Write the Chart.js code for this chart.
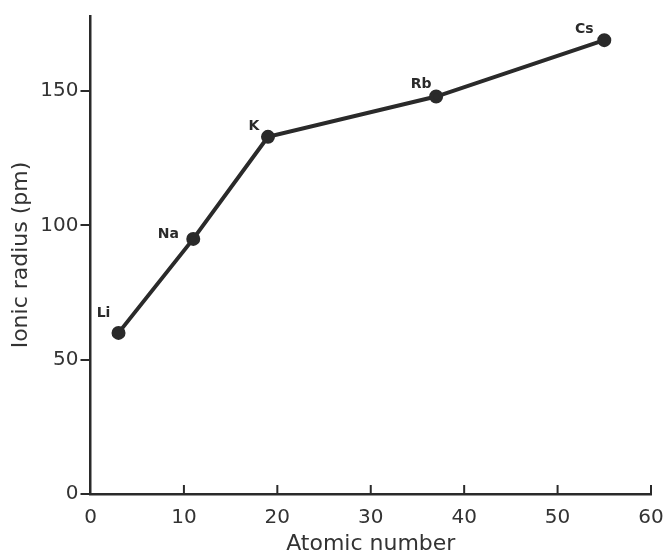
<!DOCTYPE html>
<html>
<head>
<meta charset="utf-8">
<script src="https://cdn.jsdelivr.net/npm/chart.js@4"></script>
<style>
  html, body { margin: 0; padding: 0; background: #fff; }
  .chartBox { width: 669px; height: 559px; position: relative; }
</style>
</head>
<body>
<div class="chartBox">
  <canvas id="chart"></canvas>
</div>
<script>
// alkali metal ions
const elements = ['Li', 'Na', 'K', 'Rb', 'Cs'];
const atomicNumbers = [3, 11, 19, 37, 55];
const ionicRadii = [60, 95, 133, 148, 169];
const xTicks = [0, 10, 20, 30, 40, 50, 60];
const yTicks = [0, 50, 100, 150];

const ink = '#2a2a2a';
const font = 'DejaVu Sans';

// where each element name sits relative to its point
const labelOffsets = [[-15, -20], [-25, -5], [-14, -10], [-15, -12], [-20, -11]];

const pointLabels = {
    id: 'pointLabels',
    afterDatasetsDraw(chart) {
        const ctx = chart.ctx;
        const meta = chart.getDatasetMeta(0);
        ctx.save();
        ctx.fillStyle = ink;
        ctx.font = 'bold 14px "' + font + '"';
        ctx.textAlign = 'center';
        ctx.textBaseline = 'middle';
        meta.data.forEach((pt, i) => {
            const [dx, dy] = labelOffsets[i];
            ctx.fillText(elements[i], pt.x + dx, pt.y + dy);
        });
        ctx.restore();
    }
};

// x-axis tick marks point up into the plot
const innerTicks = {
    id: 'innerTicks',
    afterDraw(chart) {
        const ctx = chart.ctx;
        const x = chart.scales.x;
        const y0 = chart.chartArea.bottom;
        ctx.save();
        ctx.strokeStyle = ink;
        ctx.lineWidth = 2;
        xTicks.slice(1).forEach(v => {
            const px = x.getPixelForValue(v);
            ctx.beginPath();
            ctx.moveTo(px, y0);
            ctx.lineTo(px, y0 - 9);
            ctx.stroke();
        });
        ctx.restore();
    }
};

new Chart(document.getElementById('chart').getContext('2d'), {
    type: 'scatter',
    data: {
        datasets: [{
            data: atomicNumbers.map((x, i) => ({ x: x, y: ionicRadii[i] })),
            showLine: true,
            borderColor: ink,
            borderWidth: 4,
            backgroundColor: ink,
            pointRadius: 5,
            pointHoverRadius: 5,
            tension: 0
        }]
    },
    options: {
        responsive: true,
        maintainAspectRatio: false,
        animation: false,
        layout: { padding: { left: 0, right: 18, top: 16, bottom: 0 } },
        plugins: {
            legend: { display: false },
            tooltip: { enabled: false }
        },
        scales: {
            x: {
                type: 'linear',
                min: 0,
                max: 60,
                afterBuildTicks: s => { s.ticks = xTicks.map(v => ({ value: v })); },
                afterFit: s => { s.height = 65; s.paddingLeft = 0; s.paddingRight = 0; },
                grid: { display: true, drawOnChartArea: false, drawTicks: false },
                border: { display: true, color: ink, width: 2.5 },
                ticks: {
                    color: '#333',
                    padding: 12,
                    font: { family: font, size: 20 }
                },
                title: {
                    display: true,
                    text: 'Atomic number',
                    color: '#333',
                    padding: { top: 0, bottom: 2 },
                    font: { family: font, size: 22 }
                }
            },
            y: {
                type: 'linear',
                min: 0,
                max: 178,
                afterBuildTicks: s => { s.ticks = yTicks.map(v => ({ value: v })); },
                afterFit: s => { s.width = 90.5; },
                grid: { display: true, drawOnChartArea: false, drawTicks: true, tickLength: 10, color: ink, lineWidth: 2 },
                border: { display: true, color: ink, width: 2.5 },
                ticks: {
                    color: '#333',
                    padding: 2,
                    font: { family: font, size: 20 }
                },
                title: {
                    display: true,
                    text: 'Ionic radius (pm)',
                    color: '#333',
                    padding: { top: 8, bottom: 0 },
                    font: { family: font, size: 22 }
                }
            }
        }
    },
    plugins: [pointLabels, innerTicks]
});
</script>
</body>
</html>
